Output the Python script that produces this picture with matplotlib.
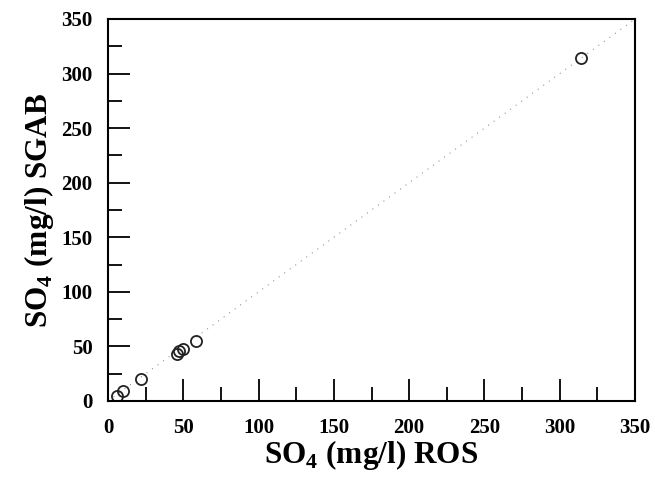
import matplotlib
matplotlib.use("Agg")
import matplotlib.pyplot as plt
from matplotlib.ticker import MultipleLocator

ros = [6, 10, 22, 45.5, 47, 49.5, 58.5, 314]
sgab = [5, 9, 20, 43.5, 46, 48, 55, 314]
line_x = [0, 350]
xticks = [0, 50, 100, 150, 200, 250, 300, 350]
yticks = [0, 50, 100, 150, 200, 250, 300, 350]

plt.rcParams['font.family'] = ['Liberation Serif', 'DejaVu Serif']
plt.rcParams['mathtext.fontset'] = 'custom'
plt.rcParams['mathtext.rm'] = 'Liberation Serif:bold'
plt.rcParams['mathtext.bf'] = 'Liberation Serif:bold'

fig = plt.figure(figsize=(6.55, 4.78), dpi=100)
ax = fig.add_axes([108/655, 77/478, 527/655, 382/478])

ax.plot(line_x, line_x, linestyle=(0, (1, 6)), color='#777777', linewidth=0.7)
ax.plot(ros, sgab, linestyle='none', marker='o', markersize=8,
        markerfacecolor='none', markeredgecolor='#222222', markeredgewidth=1.3)

ax.set_xlim(0, 350)
ax.set_ylim(0, 350)
ax.set_xticks(xticks)
ax.set_yticks(yticks)
ax.xaxis.set_minor_locator(MultipleLocator(25))
ax.yaxis.set_minor_locator(MultipleLocator(25))
ax.tick_params(which='major', direction='in', length=16, width=1.3, labelsize=15)
ax.tick_params(axis='x', which='major', pad=12)
ax.tick_params(axis='y', which='major', pad=11)
ax.tick_params(which='minor', direction='in', length=10, width=1.3)
for lab in ax.get_xticklabels() + ax.get_yticklabels():
    lab.set_fontweight('bold')
for s in ax.spines.values():
    s.set_linewidth(1.5)

ax.set_xlabel(r'SO$_4$ (mg/l) ROS', fontsize=22.5, fontweight='bold', labelpad=0)
ax.set_ylabel(r'SO$_4$ (mg/l) SGAB', fontsize=22.5, fontweight='bold', labelpad=4)

fig.savefig('out.png', dpi=100)
